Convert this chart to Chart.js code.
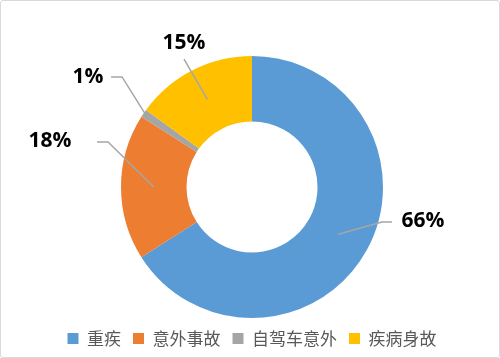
<!DOCTYPE html>
<html>
<head>
<meta charset="utf-8">
<script src="https://cdn.jsdelivr.net/npm/chart.js@4"></script>
<style>
  html, body { margin: 0; padding: 0; background: #fff; }
  #wrap { width: 500px; height: 358px; box-sizing: border-box; border: 1px solid #d9d9d9; border-radius: 3px; position: relative; }
  #pie { position: absolute; left: -1px; top: -1px; }
</style>
</head>
<body>
<div id="wrap"><canvas id="pie" width="500" height="358"></canvas></div>
<script>
var categories = ['重疾', '意外事故', '自驾车意外', '疾病身故'];
var shares = [66, 18, 1, 15];
var sliceColors = ['#5B9BD5', '#ED7D31', '#A5A5A5', '#FFC000'];

// where each percent label sits, in units of the outer radius from the centre
var labelSpots = [[1.305, 0.26], [-1.542, -0.351], [-1.252, -0.84], [-0.519, -1.099]];
// elbow points of the leader lines, same units
var leaderBends = [
  [[1.069, 0.267], [0.992, 0.267]],
  [[-1.183, -0.344], [-1.099, -0.344]],
  [[-1.076, -0.84], [-0.992, -0.84]],
  [[-0.519, -0.977]]
];
// how far out in the slice the leader ends (fraction of outer radius)
var leaderDepth = [0.75, 0.75, 0.98, 0.75];

var percentLabels = {
  id: 'percentLabels',
  afterDatasetsDraw: function(chart) {
    var ctx = chart.ctx;
    var meta = chart.getDatasetMeta(0);
    var total = shares.reduce(function(a, b) { return a + b; }, 0);
    ctx.save();
    meta.data.forEach(function(arc, i) {
      var r = arc.outerRadius;
      var cx = arc.x, cy = arc.y;
      var mid = (arc.startAngle + arc.endAngle) / 2;
      var ex = cx + Math.cos(mid) * r * leaderDepth[i];
      var ey = cy + Math.sin(mid) * r * leaderDepth[i];
      ctx.strokeStyle = '#A6A6A6';
      ctx.lineWidth = 1.5;
      ctx.beginPath();
      leaderBends[i].forEach(function(p, k) {
        var px = cx + p[0] * r, py = cy + p[1] * r;
        if (k === 0) ctx.moveTo(px, py); else ctx.lineTo(px, py);
      });
      ctx.lineTo(ex, ey);
      ctx.stroke();

      ctx.fillStyle = '#000';
      ctx.font = 'bold 21px "Open Sans", "Liberation Sans", sans-serif';
      ctx.textAlign = 'center';
      ctx.textBaseline = 'middle';
      ctx.fillText(Math.round(shares[i] / total * 100) + '%', cx + labelSpots[i][0] * r, cy + labelSpots[i][1] * r);
    });
    ctx.restore();
  }
};

var ctx = document.getElementById('pie');
window.myPie = new Chart(ctx, {
  type: 'doughnut',
  data: {
    labels: categories,
    datasets: [{
      data: shares,
      backgroundColor: sliceColors,
      borderWidth: 0
    }]
  },
  options: {
    responsive: false,
    animation: false,
    cutout: '50%',
    layout: { padding: { top: 56, bottom: 1, left: 4, right: 0 } },
    plugins: {
      legend: {
        position: 'bottom',
        labels: {
          boxWidth: 11,
          boxHeight: 11,
          padding: 12,
          color: '#595959',
          font: { size: 17, family: '"Noto Sans CJK SC", sans-serif' }
        }
      },
      tooltip: { enabled: false }
    }
  },
  plugins: [percentLabels]
});
</script>
</body>
</html>
